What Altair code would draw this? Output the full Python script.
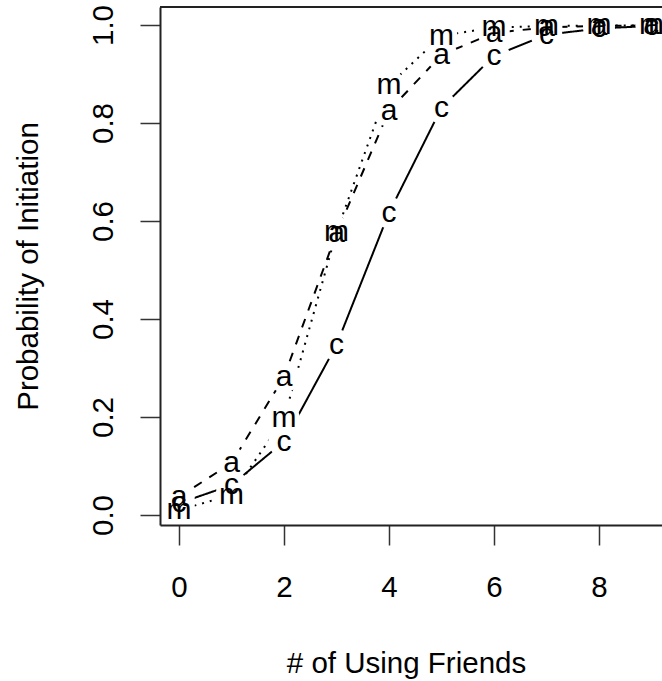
import altair as alt
import pandas as pd

# ---- data ----
x_vals = [0, 1, 2, 3, 4, 5, 6, 7, 8, 9]
c_vals = [0.024, 0.061, 0.150, 0.347, 0.617, 0.831, 0.937, 0.980, 0.993, 0.998]
a_vals = [0.037, 0.106, 0.282, 0.575, 0.825, 0.939, 0.984, 0.995, 0.998, 0.999]
m_vals = [0.010, 0.041, 0.197, 0.577, 0.877, 0.978, 0.995, 0.998, 0.999, 0.999]
series_labels = ["c", "a", "m"]
x_ticks = [0, 2, 4, 6, 8]
y_ticks = [0.0, 0.2, 0.4, 0.6, 0.8, 1.0]

rows = []
for s, vals in zip(series_labels, [c_vals, a_vals, m_vals]):
    for xv, yv in zip(x_vals, vals):
        rows.append({"x": xv, "y": yv, "s": s})
df = pd.DataFrame(rows)

FONT = "Liberation Sans"
FS = 29.5

xs = alt.Scale(domain=[-0.362, 9.2], nice=False, zero=False)
ys = alt.Scale(domain=[-0.0204, 1.0367], nice=False, zero=False)

xax = alt.Axis(
    values=x_ticks, title="# of Using Friends", grid=False,
    domainColor="#222", domainWidth=2, tickColor="#333", tickWidth=1.5, tickSize=20,
    labelFontSize=FS, labelFont=FONT, labelColor="black", labelPadding=51,
    labelBaseline="alphabetic", labelAlign="center", labelFlush=False, labelOverlap=False,
    titleFont=FONT, titleFontSize=FS, titleFontWeight="normal", titleColor="black",
    titleX=246, titleY=147, titleAlign="center", titleBaseline="alphabetic", zindex=1,
)
yax = alt.Axis(
    values=y_ticks, format=".1f", title="Probability of Initiation", grid=False,
    domainColor="#222", domainWidth=2, tickColor="#333", tickWidth=1.5, tickSize=20,
    labelFontSize=FS, labelFont=FONT, labelColor="black", labelPadding=28,
    labelAngle=270, labelAlign="center", labelBaseline="alphabetic",
    labelFlush=False, labelOverlap=False,
    titleFont=FONT, titleFontSize=FS, titleFontWeight="normal", titleColor="black",
    titleAngle=270, titleX=-123, titleY=259, titleAlign="center",
    titleBaseline="alphabetic", zindex=1,
)

X = alt.X("x:Q", scale=xs, axis=xax)
Y = alt.Y("y:Q", scale=ys, axis=yax)

base = alt.Chart(df)

lines = base.mark_line(strokeWidth=2, color="black").encode(
    x=X, y=Y,
    strokeDash=alt.StrokeDash(
        "s:N",
        scale=alt.Scale(domain=series_labels, range=[[1, 0], [9, 9], [2, 6]]),
        legend=None,
    ),
    detail="s:N",
)

halos = base.mark_point(filled=True, color="white", opacity=1, size=1000, strokeWidth=0).encode(
    x=X, y=Y
)

letters = base.mark_text(
    font=FONT, fontSize=30, baseline="middle", align="center", color="black"
).encode(x=X, y=Y, text="s:N")

topline = alt.Chart(pd.DataFrame({"k": [0]})).mark_rule(color="#222", strokeWidth=2).encode(
    x=alt.value(0), x2=alt.value(502), y=alt.value(0)
)

chart = (
    alt.layer(lines, halos, letters, topline)
    .properties(
        width=502, height=518,
        autosize=alt.AutoSizeParams(type="none"),
        padding={"left": 160, "top": 7, "right": 0, "bottom": 156},
        background="white",
    )
    .configure_view(stroke=None)
)

chart.save("out.html", embed_options={"renderer": "svg", "actions": False})
